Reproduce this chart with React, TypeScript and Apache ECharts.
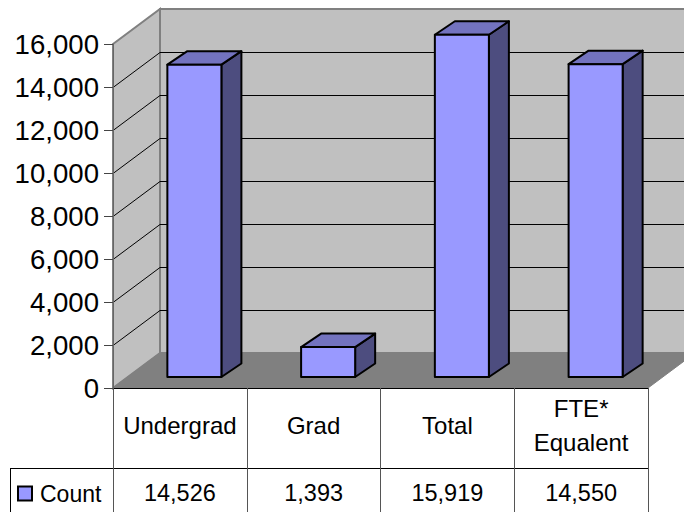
import React, { useEffect, useRef } from "react";
import * as echarts from "echarts";

const categories = ["Undergrad", "Grad", "Total", "FTE*\nEqualent"];
const counts = [14526, 1393, 15919, 14550];
const yTicks = [0, 2000, 4000, 6000, 8000, 10000, 12000, 14000, 16000];
const seriesName = "Count";

const FONT = '"Liberation Sans", Arial, sans-serif';
const fmt = (v: number) => v.toLocaleString("en-US");

// Fixed oblique projection of the Excel-style 3D chart
const WALL_DX = 47;
const WALL_DY = -35;
const BAR_SHIFT_X = 14.5;
const BAR_SHIFT_Y = -11;
const BAR_DX = 20;
const BAR_DY = -13.5;
const BAR_RATIO = 0.404;

const renderWall = (params: any, api: any) => {
  const v = api.value(0);
  const { x, y, width, height } = params.coordSys;
  const py = api.coord([0, v])[1];
  const children: any[] = [];
  if (v === 0) {
    const gray = { stroke: "#808080", lineWidth: 2 };
    children.push(
      {
        type: "polygon",
        shape: { points: [[x, y], [x + WALL_DX, y + WALL_DY], [x + WALL_DX, y + height + WALL_DY], [x, y + height]] },
        style: { fill: "#C0C0C0", ...gray },
      },
      {
        type: "polygon",
        shape: { points: [[x + WALL_DX, y + WALL_DY], [x + width + WALL_DX, y + WALL_DY], [x + width + WALL_DX, y + height + WALL_DY], [x + WALL_DX, y + height + WALL_DY]] },
        style: { fill: "#C0C0C0", ...gray },
      },
      {
        type: "polygon",
        shape: { points: [[x, y + height], [x + WALL_DX, y + height + WALL_DY], [x + width + WALL_DX, y + height + WALL_DY], [x + width, y + height]] },
        style: { fill: "#808080", stroke: "#808080", lineWidth: 1 },
      }
    );
  } else if (v < yTicks[yTicks.length - 1]) {
    const ly = py + 0.5;
    children.push({
      type: "polyline",
      shape: { points: [[x, ly], [x + WALL_DX, ly + WALL_DY], [x + width + WALL_DX, ly + WALL_DY]] },
      style: { fill: "none", stroke: "#000", lineWidth: 1 },
    });
  }
  return { type: "group", children };
};

const renderBar = (_: any, api: any) => {
  const [cx, top] = api.coord([api.value(0), api.value(1)]);
  const base = api.coord([api.value(0), 0])[1];
  const w = api.size([1, 0])[0] * BAR_RATIO;
  const l = cx - w / 2 + BAR_SHIFT_X;
  const r = l + w;
  const t = top + BAR_SHIFT_Y;
  const b = base + BAR_SHIFT_Y;
  const line = { stroke: "#000", lineWidth: 2, lineJoin: "round" };
  return {
    type: "group",
    children: [
      {
        type: "polygon",
        shape: { points: [[r, t], [r + BAR_DX, t + BAR_DY], [r + BAR_DX, b + BAR_DY], [r, b]] },
        style: { fill: "#4D4D7F", ...line },
      },
      {
        type: "polygon",
        shape: { points: [[l, t], [l + BAR_DX, t + BAR_DY], [r + BAR_DX, t + BAR_DY], [r, t]] },
        style: { fill: "#7373BF", ...line },
      },
      {
        type: "rect",
        shape: { x: l, y: t, width: w, height: b - t },
        style: { fill: "#9999FF", ...line },
      },
    ],
  };
};

export default function App() {
  const ref = useRef<HTMLDivElement>(null);
  useEffect(() => {
    document.body.style.margin = "0";
    const chart = echarts.init(ref.current!, undefined, { renderer: "svg" });
    chart.setOption({
      animation: false,
      backgroundColor: "#fff",
      textStyle: { fontFamily: FONT },
      grid: { left: 113, right: 36, top: 44, bottom: 124 },
      legend: {
        left: 17,
        top: 482,
        padding: 0,
        itemGap: 9,
        itemWidth: 14,
        itemHeight: 14,
        selectedMode: false,
        data: [
          {
            name: seriesName,
            icon: "rect",
            itemStyle: { color: "#9999FF", borderColor: "#000", borderWidth: 2 },
          },
        ],
        textStyle: { fontFamily: FONT, fontSize: 23, color: "#000", padding: [0, 0, 4, 3] },
      },
      xAxis: [
        {
          type: "category",
          data: categories,
          z: 5,
          axisLine: { lineStyle: { color: "#000", width: 1 } },
          axisTick: { show: true, length: 124, alignWithLabel: false, lineStyle: { color: "#555", width: 1 } },
          axisLabel: {
            interval: 0,
            color: "#000",
            fontFamily: FONT,
            fontSize: 24,
            lineHeight: 34,
            margin: 37,
            verticalAlign: "middle",
          },
        },
        {
          type: "category",
          position: "bottom",
          offset: 80,
          data: counts.map(fmt),
          z: 5,
          axisLine: { onZero: false, lineStyle: { color: "#000", width: 1 } },
          axisTick: { show: false },
          axisLabel: {
            interval: 0,
            color: "#000",
            fontFamily: FONT,
            fontSize: 23.5,
            margin: 25,
            verticalAlign: "middle",
          },
        },
      ],
      yAxis: {
        type: "value",
        min: 0,
        max: 16000,
        interval: 2000,
        z: 5,
        axisLine: { show: true, lineStyle: { color: "#666", width: 1 } },
        axisTick: { show: true, length: 9, lineStyle: { color: "#444", width: 1 } },
        splitLine: { show: false },
        axisLabel: {
          color: "#000",
          fontFamily: FONT,
          fontSize: 27.6,
          margin: 14,
          formatter: (v: number) => fmt(v),
        },
      },
      graphic: [
        { type: "line", z: 10, shape: { x1: 10, y1: 468.5, x2: 113, y2: 468.5 }, style: { stroke: "#000", lineWidth: 1 } },
        { type: "line", z: 10, shape: { x1: 10.5, y1: 468, x2: 10.5, y2: 512 }, style: { stroke: "#000", lineWidth: 1 } },
      ],
      series: [
        {
          name: "Walls",
          type: "custom",
          xAxisIndex: 0,
          renderItem: renderWall,
          encode: { y: 0 },
          data: yTicks.map((v) => [v]),
          silent: true,
          z: 1,
        },
        {
          name: seriesName,
          type: "custom",
          xAxisIndex: 0,
          renderItem: renderBar,
          encode: { x: 0, y: 1 },
          data: counts.map((v, i) => [i, v]),
          z: 2,
        },
      ],
    });
    return () => chart.dispose();
  }, []);
  return <div ref={ref} style={{ width: 684, height: 512 }} />;
}
